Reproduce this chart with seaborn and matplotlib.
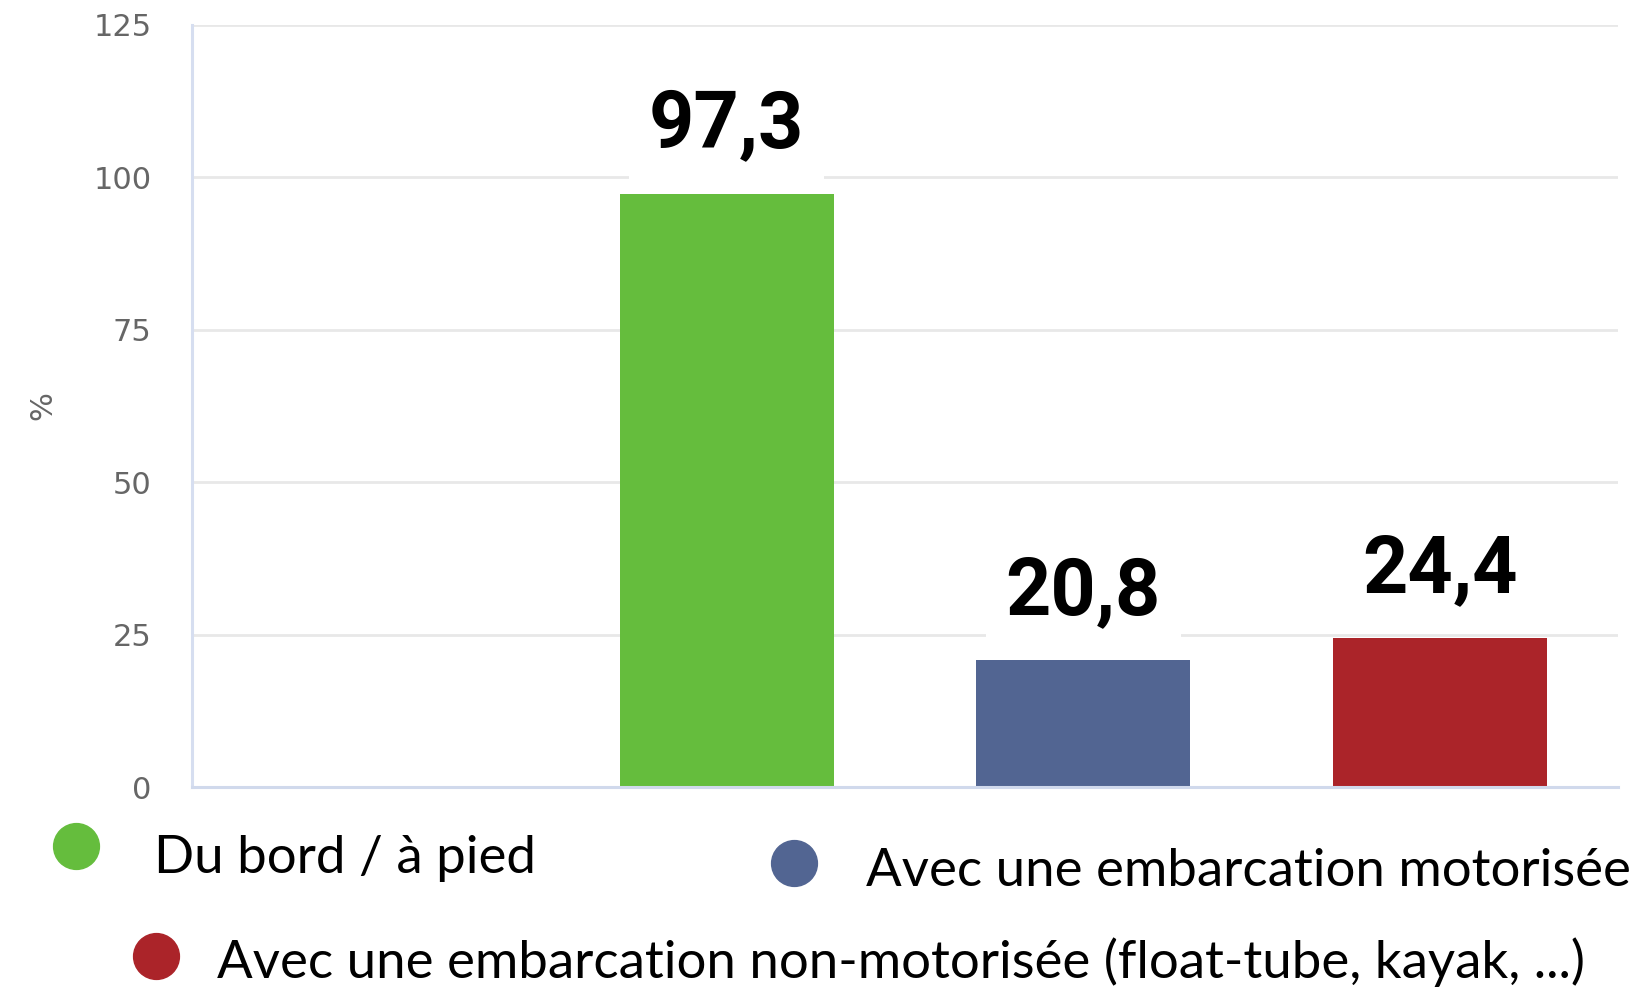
import matplotlib
matplotlib.use("Agg")
import matplotlib.pyplot as plt
from matplotlib.lines import Line2D
import pandas as pd
import seaborn as sns

# values (percent)
categories = ["Du bord / à pied",
              "Avec une embarcation motorisée",
              "Avec une embarcation non-motorisée (float-tube, kayak, ...)"]
values = [97.3, 20.8, 24.4]
value_labels = ["97,3", "20,8", "24,4"]
colors = ["#65bd3d", "#526592", "#ab2429"]
y_ticks = [0, 25, 50, 75, 100, 125]

sns.set_theme(style="white")
plt.rcParams['font.family'] = ['DejaVu Sans']

df = pd.DataFrame({"mode": categories, "pct": values})

fig = plt.figure(figsize=(16.38, 9.9), dpi=100)
ax = fig.add_axes([0.117, 0.205, 0.871, 0.770])

sns.barplot(data=df, x="mode", y="pct", hue="mode", order=categories,
            hue_order=categories, palette=colors, width=0.6, saturation=1,
            linewidth=0, legend=False, ax=ax)

# first slot of the original chart is empty
ax.set_xlim(-1.5, 2.5)
ax.set_ylim(0, 125)
ax.set_yticks(y_ticks)
ax.set_xticks([])
ax.set_xlabel("")
ax.set_ylabel("%", fontsize=22, color="#666666", labelpad=26)
ax.tick_params(axis='y', length=0, pad=29, labelsize=22, labelcolor="#666666")

ax.set_axisbelow(True)
ax.yaxis.grid(True, color="#e8e8e8", linewidth=2)
for side in ["top", "right"]:
    ax.spines[side].set_visible(False)
ax.spines["left"].set_color("#d6def0")
ax.spines["left"].set_linewidth(2.2)
ax.spines["bottom"].set_color("#d0d9ec")
ax.spines["bottom"].set_linewidth(2.2)

for container, lab in zip(ax.containers, value_labels):
    ax.bar_label(container, labels=[lab], padding=22, fontsize=57,
                 fontweight="bold", color="black",
                 family=["Roboto", "DejaVu Sans"],
                 bbox=dict(facecolor="white", edgecolor="none", pad=14))

# hand placed legend, as in the original
legend_items = [
    (colors[0], categories[0], (0.0464, 0.1455), (0.094, 0.1182)),
    (colors[1], categories[1], (0.4847, 0.1283), (0.5287, 0.105)),
    (colors[2], categories[2], (0.0952, 0.0343), (0.1325, 0.0121)),
]
for col, txt, dot, pos in legend_items:
    fig.add_artist(Line2D([dot[0]], [dot[1]], transform=fig.transFigure,
                          marker="o", markersize=33, color=col,
                          linestyle="none"))
    fig.text(pos[0], pos[1], txt, fontsize=38, family=["Lato", "DejaVu Sans"],
             color="black", va="baseline", ha="left")

fig.savefig("out.png", dpi=100)
